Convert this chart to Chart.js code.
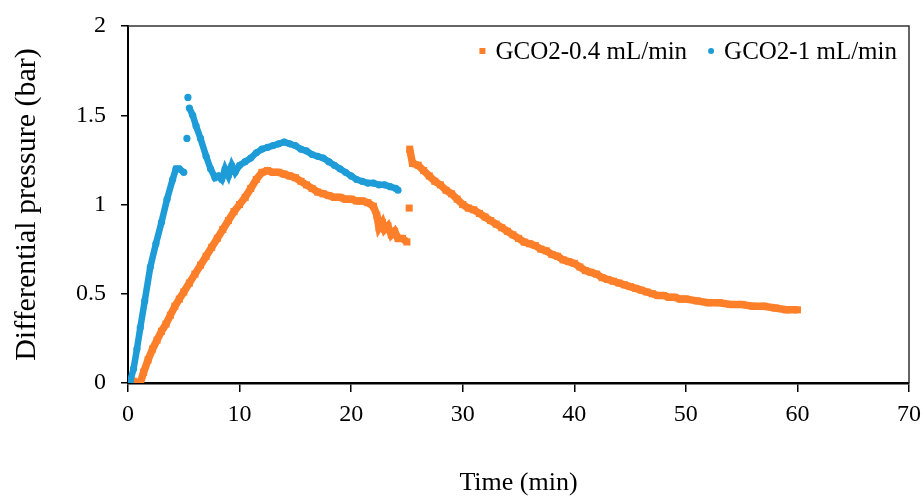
<!DOCTYPE html>
<html>
<head>
<meta charset="utf-8">
<script src="https://cdn.jsdelivr.net/npm/chart.js@4.4.1/dist/chart.umd.min.js"></script>
<style>
  body { margin: 0; background: #fff; }
  #wrap { width: 924px; height: 497px; }
</style>
</head>
<body>
<div id="wrap"><canvas id="chart" width="924" height="497"></canvas></div>
<script>
// series names
const seriesNames = ['GCO2-0.4 mL/min', 'GCO2-1 mL/min'];
const seriesColors = ['#FD7F2A', '#1E9CD8'];

// GCO2-0.4 mL/min (orange squares), null = gap in the trace
const lowTime = [0, 0.5, 0.9, 1.1, 1.4, 1.8, 2.2, 2.6, 3.0, 3.4, 3.8, 4.2, 4.6, 5.0, 5.5, 6.0, 6.5, 7.0, 7.5, 8.0,
  8.5, 9.0, 9.5, 10.0, 10.5, 11.0, 11.5, 12.0, 12.5, 13.0, 13.5, 14.0, 14.5, 15.0, 15.5, 16.0, 16.5, 17.0, 17.5, 18.0,
  18.5, 19.0, 19.5, 20.0, 20.5, 21.0, 21.5, 22.0, 22.3, 22.5, 22.8, 23.0, 23.3, 23.6, 23.9, 24.2, 24.6, 25.0,
  25.1, 25.2, 25.22, 25.25, 25.5, 26.0, 26.5, 27.0, 27.5, 28.0, 28.5, 29.0, 29.5, 30.0, 30.5, 31.0, 31.5, 32.0,
  32.5, 33.0, 33.5, 34.0, 34.5, 35.0, 35.5, 36.0, 36.5, 37.0, 37.5, 38.0, 38.5, 39.0, 39.5, 40.0, 40.5, 41.0,
  41.5, 42.0, 42.5, 43.0, 43.5, 44.0, 44.5, 45.0, 45.5, 46.0, 46.5, 47.0, 47.5, 48.0, 48.5, 49.0, 49.5, 50.0,
  51.0, 52.0, 53.0, 54.0, 55.0, 56.0, 57.0, 58.0, 59.0, 60.0];
const lowDp = [0.01, 0.01, 0.0, 0.0, 0.06, 0.13, 0.19, 0.24, 0.29, 0.33, 0.38, 0.43, 0.47, 0.51, 0.56, 0.61, 0.66, 0.71, 0.76, 0.81,
  0.86, 0.91, 0.96, 1.0, 1.04, 1.09, 1.14, 1.18, 1.19, 1.18, 1.18, 1.17, 1.16, 1.15, 1.13, 1.11, 1.09, 1.07, 1.06, 1.05,
  1.04, 1.04, 1.03, 1.03, 1.02, 1.02, 1.01, 0.99, 0.94, 0.87, 0.9, 0.86, 0.88, 0.83, 0.85, 0.81, 0.81, 0.79,
  null, 0.98, null, 1.31, 1.23, 1.22, 1.19, 1.16, 1.13, 1.11, 1.08, 1.06, 1.03, 1.0, 0.98, 0.97, 0.95, 0.93,
  0.91, 0.89, 0.87, 0.85, 0.83, 0.81, 0.79, 0.78, 0.77, 0.75, 0.74, 0.72, 0.71, 0.69, 0.68, 0.67, 0.65, 0.63,
  0.62, 0.61, 0.59, 0.58, 0.57, 0.56, 0.55, 0.54, 0.53, 0.52, 0.51, 0.5, 0.49, 0.49, 0.48, 0.48, 0.47, 0.47,
  0.46, 0.45, 0.45, 0.44, 0.44, 0.43, 0.43, 0.42, 0.41, 0.41];

// GCO2-1 mL/min (blue dots)
const highTime = [0.2, 0.5, 0.8, 1.1, 1.5, 2.0, 2.5, 3.0, 3.5, 4.0, 4.3, 4.6, 5.0, 5.2, 5.28, 5.32, 5.37, 5.42,
  5.5, 5.8, 6.1, 6.5, 7.0, 7.4, 7.8, 8.1, 8.4, 8.7, 9.0, 9.3, 9.6, 10.0, 10.5, 11.0, 11.5, 12.0, 12.5, 13.0, 13.5,
  14.0, 14.5, 15.0, 15.5, 16.0, 16.5, 17.0, 17.5, 18.0, 18.5, 19.0, 19.5, 20.0, 20.5, 21.0, 21.5, 22.0, 22.5,
  23.0, 23.5, 24.0, 24.2];
const highDp = [0.01, 0.08, 0.19, 0.31, 0.46, 0.65, 0.78, 0.9, 1.03, 1.14, 1.2, 1.2, 1.18, null, 1.37, null, 1.6, null,
  1.54, 1.5, 1.44, 1.37, 1.27, 1.2, 1.15, 1.16, 1.14, 1.2, 1.16, 1.22, 1.18, 1.22, 1.24, 1.26, 1.29, 1.31, 1.32, 1.33, 1.34,
  1.35, 1.34, 1.33, 1.31, 1.3, 1.28, 1.27, 1.26, 1.24, 1.22, 1.2, 1.18, 1.16, 1.14, 1.13, 1.12, 1.12, 1.11,
  1.11, 1.1, 1.09, 1.08];

const xTicks = [0, 10, 20, 30, 40, 50, 60, 70];
const yTicks = [0, 0.5, 1, 1.5, 2];

const toPoints = (xs, ys) => xs.map((x, i) => ({ x: x, y: ys[i] }));

const serif = '"Liberation Serif", "DejaVu Serif", serif';

// caja alrededor del area del grafico (arriba y derecha)
const frame = {
  id: 'frame',
  afterDraw(chart) {
    const a = chart.chartArea;
    const ctx = chart.ctx;
    ctx.save();
    ctx.strokeStyle = '#333';
    ctx.lineWidth = 1.5;
    ctx.beginPath();
    ctx.moveTo(a.left, a.top);
    ctx.lineTo(a.right, a.top);
    ctx.lineTo(a.right, a.bottom);
    ctx.stroke();
    ctx.restore();
  }
};

// leyenda dentro del area, arriba a la derecha
const insideLegend = {
  id: 'insideLegend',
  afterDraw(chart) {
    const a = chart.chartArea;
    const ctx = chart.ctx;
    ctx.save();
    ctx.font = '25px ' + serif;
    ctx.textBaseline = 'middle';
    const y = a.top + 25;
    let right = a.right - 12;
    // se dibuja de derecha a izquierda: primero la serie azul
    [1, 0].forEach(i => {
      const w = ctx.measureText(seriesNames[i]).width;
      const textX = right - w;
      ctx.fillStyle = '#000';
      ctx.fillText(seriesNames[i], textX, y + 1);
      const mx = textX - 13;
      ctx.fillStyle = seriesColors[i];
      if (i === 1) {
        ctx.beginPath();
        ctx.arc(mx, y, 3, 0, Math.PI * 2);
        ctx.fill();
      } else {
        ctx.fillRect(mx - 3, y - 3, 6, 6);
      }
      right = mx - 24;
    });
    ctx.restore();
  }
};

const ctx = document.getElementById('chart').getContext('2d');
new Chart(ctx, {
  type: 'scatter',
  data: {
    datasets: [{
      label: seriesNames[1],
      data: toPoints(highTime, highDp),
      showLine: true,
      borderColor: seriesColors[1],
      backgroundColor: seriesColors[1],
      borderWidth: 6.5,
      pointStyle: 'circle',
      pointRadius: 3.6,
      pointBorderWidth: 0,
      pointBackgroundColor: seriesColors[1]
    }, {
      label: seriesNames[0],
      data: toPoints(lowTime, lowDp),
      showLine: true,
      borderColor: seriesColors[0],
      backgroundColor: seriesColors[0],
      borderWidth: 7.5,
      pointStyle: 'rect',
      pointRadius: 5,
      pointBorderWidth: 0,
      pointBackgroundColor: seriesColors[0]
    }]
  },
  options: {
    responsive: false,
    animation: false,
    layout: { padding: { top: 26, right: 15, bottom: 0, left: 0 } },
    plugins: {
      tooltip: { enabled: false },
      legend: { display: false }
    },
    scales: {
      x: {
        type: 'linear',
        min: 0,
        max: 70,
        afterBuildTicks: s => { s.ticks = xTicks.map(v => ({ value: v })); },
        afterFit: s => { s.height = 114; s.paddingLeft = 0; s.paddingRight = 0; },
        grid: { drawOnChartArea: false, drawTicks: true, tickLength: 9, color: '#000', lineWidth: 1.5 },
        border: { display: true, color: '#000', width: 2.5 },
        ticks: { color: '#000', padding: 8, font: { family: serif, size: 24 }, callback: v => String(v) },
        title: {
          display: true,
          text: 'Time (min)',
          color: '#000',
          font: { family: serif, size: 26, lineHeight: 1 },
          padding: { top: 0, bottom: 1 }
        }
      },
      y: {
        type: 'linear',
        min: 0,
        max: 2,
        afterBuildTicks: s => { s.ticks = yTicks.map(v => ({ value: v })); },
        afterFit: s => { s.width = 128; s.paddingTop = 0; s.paddingBottom = 0; },
        grid: { drawOnChartArea: false, drawTicks: true, tickLength: 7, color: '#000', lineWidth: 1.5 },
        border: { display: true, color: '#000', width: 2 },
        ticks: { color: '#000', padding: 15, font: { family: serif, size: 24 }, callback: v => String(v) },
        title: {
          display: true,
          text: 'Differential pressure (bar)',
          color: '#000',
          font: { family: serif, size: 30, lineHeight: 1 },
          padding: { top: 12, bottom: 0 }
        }
      }
    }
  },
  plugins: [frame, insideLegend]
});
</script>
</body>
</html>
